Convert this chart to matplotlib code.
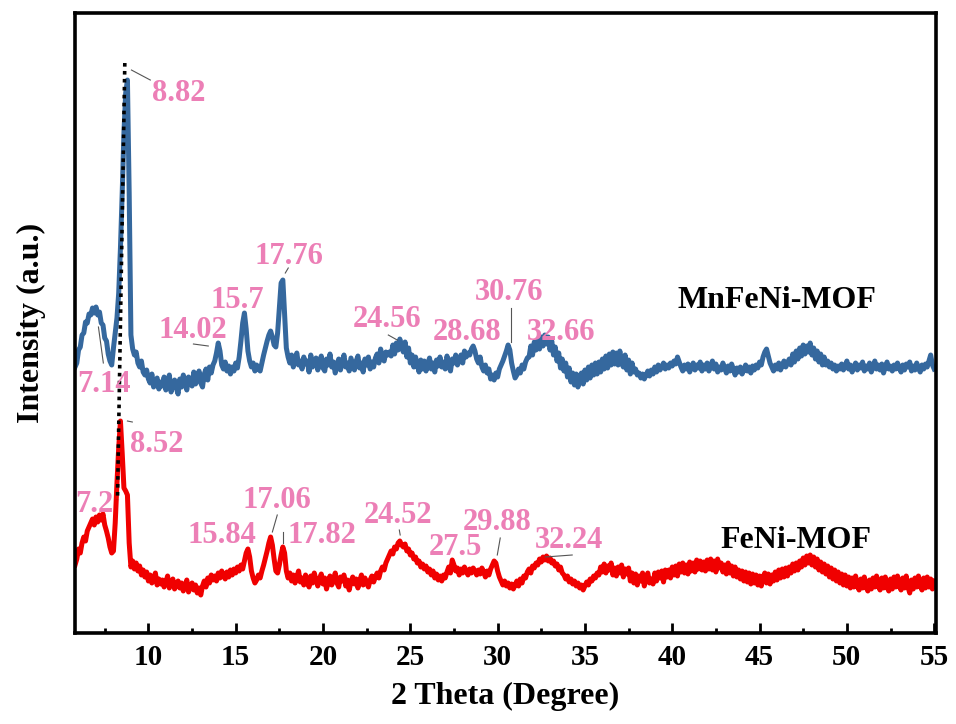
import numpy as np
import matplotlib
matplotlib.use("Agg")
import matplotlib.pyplot as plt
from matplotlib.ticker import MultipleLocator

plt.rcParams['font.family'] = ['Liberation Serif', 'DejaVu Serif']
plt.rcParams['font.weight'] = 'bold'

# 2-theta scan, 0.1 degree steps from 5.8 to 55.0 (one row = 1 degree)
two_theta = np.round(np.arange(5.8, 55.01, 0.1), 1)

# MnFeNi-MOF intensity (a.u.)
mnfeni = [
    266, 270, 283, 286, 298, 300, 311, 310, 319, 318,
    325, 320, 326, 318, 321, 310, 308, 295, 292, 279,
    272, 268, 285, 300, 315, 340, 385, 440, 500, 540,
    553, 440, 298, 284, 278, 281, 270, 266, 272, 261,
    258, 263, 254, 250, 259, 246, 252, 255, 244, 251,
    247, 256, 243, 250, 258, 241, 248, 253, 245, 239,
    254, 246, 258, 250, 243, 256, 252, 247, 261, 249,
    255, 262, 250, 246, 259, 264, 253, 266, 260, 268,
    272, 280, 290, 282, 268, 264, 271, 262, 267, 259,
    266, 262, 270, 265, 276, 292, 310, 320, 304, 282,
    272, 266, 270, 262, 268, 264, 262, 270, 278, 285,
    292, 298, 302, 296, 288, 286, 300, 325, 350, 353,
    320, 285, 276, 270, 278, 266, 273, 280, 268, 272,
    264, 276, 269, 272, 261, 278, 266, 271, 275, 263,
    270, 277, 265, 262, 274, 268, 279, 266, 271, 260,
    268, 274, 263, 271, 278, 266, 270, 262, 275, 269,
    263, 272, 277, 265, 270, 261, 274, 268, 276, 264,
    271, 266, 275, 279, 270, 284, 276, 272, 281, 278,
    281, 277, 288, 279, 290, 283, 294, 286, 281, 291,
    276, 285, 270, 278, 266, 276, 268, 261, 273, 264,
    272, 262, 269, 275, 264, 270, 261, 273, 267, 276,
    266, 271, 264, 277, 269, 262, 274, 270, 278, 268,
    273, 278, 270, 282, 276, 280, 278, 284, 287, 282,
    274, 270, 276, 266, 262, 268, 260, 264, 254, 258,
    253, 260, 256, 264, 268, 272, 277, 282, 288, 283,
    270, 262, 255, 258, 264, 260, 268, 264, 271, 275,
    276, 287, 278, 291, 283, 293, 284, 296, 287, 298,
    289, 296, 283, 292, 278, 286, 272, 280, 265, 274,
    262, 270, 256, 265, 251, 260, 248, 259, 246, 256,
    260, 249, 263, 253, 266, 255, 268, 258, 270, 259,
    271, 261, 274, 264, 277, 265, 279, 268, 281, 269,
    280, 268, 282, 270, 266, 278, 263, 273, 259, 270,
    261, 264, 258, 260, 255, 259, 254, 258, 262, 257,
    263, 259, 266, 261, 268, 263, 266, 270, 264, 268,
    265, 270, 267, 272, 269, 276, 271, 266, 262, 268,
    264, 269, 261, 266, 270, 263, 268, 265, 271, 262,
    268, 264, 270, 262, 267, 272, 264, 269, 261, 266,
    263, 270, 265, 260, 267, 262, 269, 264, 258, 265,
    261, 266, 259, 263, 268, 262, 266, 260, 267, 263,
    268, 265, 271, 268, 276, 281, 284, 277, 270, 266,
    262, 268, 264, 270, 263, 267, 272, 266, 270, 274,
    268, 279, 271, 282, 274, 285, 277, 288, 279, 287,
    281, 290, 278, 285, 274, 282, 271, 279, 268, 276,
    268, 272, 266, 270, 264, 268, 262, 267, 264, 269,
    263, 267, 272, 264, 268, 261, 266, 270, 263, 268,
    265, 271, 262, 267, 264, 270, 261, 266, 272, 264,
    268, 263, 269, 260, 266, 271, 264, 267, 262, 268,
    264, 270, 265, 261, 268, 263, 269, 266, 271, 262,
    267, 263, 270, 265, 261, 268, 264, 269, 266, 272,
    278, 268, 264,
]

# FeNi-MOF intensity (a.u.)
feni = [
    68, 74, 84, 80, 90, 96, 92, 102, 106, 110,
    114, 108, 116, 111, 118, 113, 119, 108, 102, 95,
    86, 80, 82, 110, 150, 185, 212, 180, 145, 142,
    138, 90, 66, 72, 64, 70, 62, 67, 58, 63,
    56, 61, 52, 58, 50, 55, 60, 48, 54, 49,
    53, 46, 51, 57, 45, 50, 54, 44, 49, 52,
    45, 50, 42, 47, 53, 41, 46, 50, 43, 48,
    40, 45, 38, 47, 52, 46, 55, 50, 58, 53,
    57, 52, 60, 55, 62, 57, 54, 61, 56, 63,
    58, 64, 60, 66, 62, 68, 64, 72, 80, 84,
    76, 62, 55, 50, 53, 58, 55, 62, 68, 75,
    82, 90, 96, 88, 74, 62, 60, 68, 78, 86,
    80, 62, 55, 60, 52, 58, 50, 56, 62, 51,
    55, 48, 58, 52, 46, 57, 50, 60, 53, 47,
    54, 59, 49, 55, 44, 51, 57, 48, 53, 60,
    50, 46, 56, 52, 58, 47, 53, 43, 51, 56,
    49, 54, 45, 52, 58, 48, 55, 50, 46, 53,
    57, 51, 56, 60, 55, 62, 66, 63, 70, 74,
    78, 82, 79, 86, 84, 90, 92, 88, 86, 89,
    82, 84, 78, 80, 74, 76, 70, 72, 66, 69,
    64, 67, 61, 64, 58, 62, 55, 59, 53, 57,
    52, 58, 55, 61, 66, 60, 73, 68, 62, 65,
    58, 64, 60, 66, 62, 58, 64, 60, 65, 62,
    58, 63, 59, 65, 61, 56, 62, 58, 64, 68,
    72, 70, 62, 56, 52, 48, 52, 47, 50, 45,
    49, 44, 48, 52, 47, 54, 50, 57, 55, 61,
    64, 60, 67, 65, 70, 68, 74, 71, 76, 73,
    77, 72, 75, 70, 72, 67, 69, 63, 66, 60,
    58, 54, 57, 51, 54, 49, 52, 47, 50, 45,
    48, 43, 47, 51, 48, 54, 52, 57, 55, 60,
    58, 66, 61, 69, 60, 67, 63, 70, 58, 65,
    57, 66, 60, 68, 56, 64, 59, 65, 52, 60,
    50, 59, 48, 57, 52, 60, 47, 55, 60, 50,
    54, 49, 60, 52, 61, 55, 62, 51, 63, 56,
    63, 55, 66, 58, 67, 57, 69, 61, 70, 60,
    68, 59, 71, 62, 70, 61, 73, 64, 72, 63,
    71, 62, 73, 64, 74, 63, 72, 61, 74, 65,
    70, 61, 68, 59, 70, 60, 67, 57, 66, 56,
    63, 54, 62, 52, 61, 51, 60, 49, 59, 50,
    58, 48, 57, 47, 56, 60, 50, 59, 49, 58,
    52, 61, 53, 63, 55, 64, 56, 65, 57, 66,
    60, 69, 62, 70, 63, 72, 66, 75, 68, 77,
    70, 78, 68, 76, 66, 74, 63, 71, 61, 69,
    59, 67, 56, 65, 54, 63, 52, 61, 50, 59,
    48, 58, 47, 56, 45, 55, 46, 57, 47, 43,
    54, 45, 56, 46, 42, 53, 44, 55, 46, 57,
    47, 43, 55, 45, 56, 46, 42, 54, 44, 56,
    46, 57, 47, 43, 55, 45, 57, 46, 40, 53,
    44, 55, 46, 57, 47, 43, 55, 45, 56, 46,
    54, 44, 52,
]

# peak labels: text, text x, text baseline y
mn_labels = ["8.82", "7.14", "14.02", "15.7", "17.76",
             "24.56", "28.68", "30.76", "32.66"]
mn_label_x = [10.23, 5.94, 10.57, 13.55, 16.07, 21.73, 26.31, 28.72, 31.69]
mn_label_y = [532, 241, 295, 325, 369, 306, 293, 333, 293]

fe_labels = ["8.52", "7.2", "17.06", "15.84", "17.82",
             "24.52", "27.5", "29.88", "32.24"]
fe_label_x = [8.97, 5.82, 15.38, 12.23, 17.96, 22.31, 26.03, 28.03, 32.15]
fe_label_y = [181, 121, 125, 90, 90, 110, 78, 103, 85]

# short leader lines from peaks to labels: (x0, y0, x1, y1)
leaders = [
    (9.03, 563, 10.11, 553),
    (7.14, 306, 7.42, 270),
    (12.58, 289, 13.43, 287),
    (18.01, 365, 17.84, 360),
    (23.74, 298, 24.25, 293),
    (30.78, 325, 30.78, 291),
    (8.80, 212, 9.08, 211),
    (17.38, 118, 17.10, 101),
    (17.73, 101, 17.73, 90),
    (24.37, 103, 24.42, 98),
    (30.15, 95, 29.98, 78),
    (32.73, 76, 34.27, 78),
]

# dotted guide joining the two main reflections
shift_x = [8.65, 8.23]
shift_y = [570, 133]

PINK = '#ec7fb6'

fig = plt.figure(figsize=(9.56, 7.24), dpi=100)
ax = fig.add_axes([0.0785, 0.1257, 0.9005, 0.8563])

ax.plot(two_theta, mnfeni, color='#35689e', lw=3.6, solid_joinstyle='round')
ax.plot(two_theta, feni, color='#f00000', lw=3.6, solid_joinstyle='round')
ax.plot(shift_x, shift_y, color='black', lw=2.6, ls=(0, (1, 1.2)), zorder=5)

for x0, y0, x1, y1 in leaders:
    ax.plot([x0, x1], [y0, y1], color='#555555', lw=0.8, zorder=4)

for t, x, y in zip(mn_labels + fe_labels, mn_label_x + fe_label_x,
                   mn_label_y + fe_label_y):
    ax.text(x, y, t, color=PINK, fontsize=22, fontweight='bold',
            ha='left', va='baseline', zorder=6)

ax.text(40.28, 325, "MnFeNi-MOF", fontsize=23, fontweight='bold',
        ha='left', va='baseline')
ax.text(42.74, 85, "FeNi-MOF", fontsize=23, fontweight='bold',
        ha='left', va='baseline')

ax.set_xlim(5.8, 55.1)
ax.set_ylim(0, 620)
ax.xaxis.set_major_locator(MultipleLocator(5))
ax.xaxis.set_minor_locator(MultipleLocator(2.5))
ax.tick_params(axis='x', which='major', direction='in', length=7, width=2,
               labelsize=21, pad=8)
ax.tick_params(axis='x', which='minor', direction='in', length=3.5, width=2)
ax.set_yticks([])
for s in ax.spines.values():
    s.set_linewidth(2.6)

ax.set_xlabel("2 Theta (Degree)", fontsize=23, fontweight='bold', labelpad=8)
ax.set_ylabel("Intensity (a.u.)", fontsize=23, fontweight='bold', labelpad=21)

fig.savefig("out.png", dpi=100)
